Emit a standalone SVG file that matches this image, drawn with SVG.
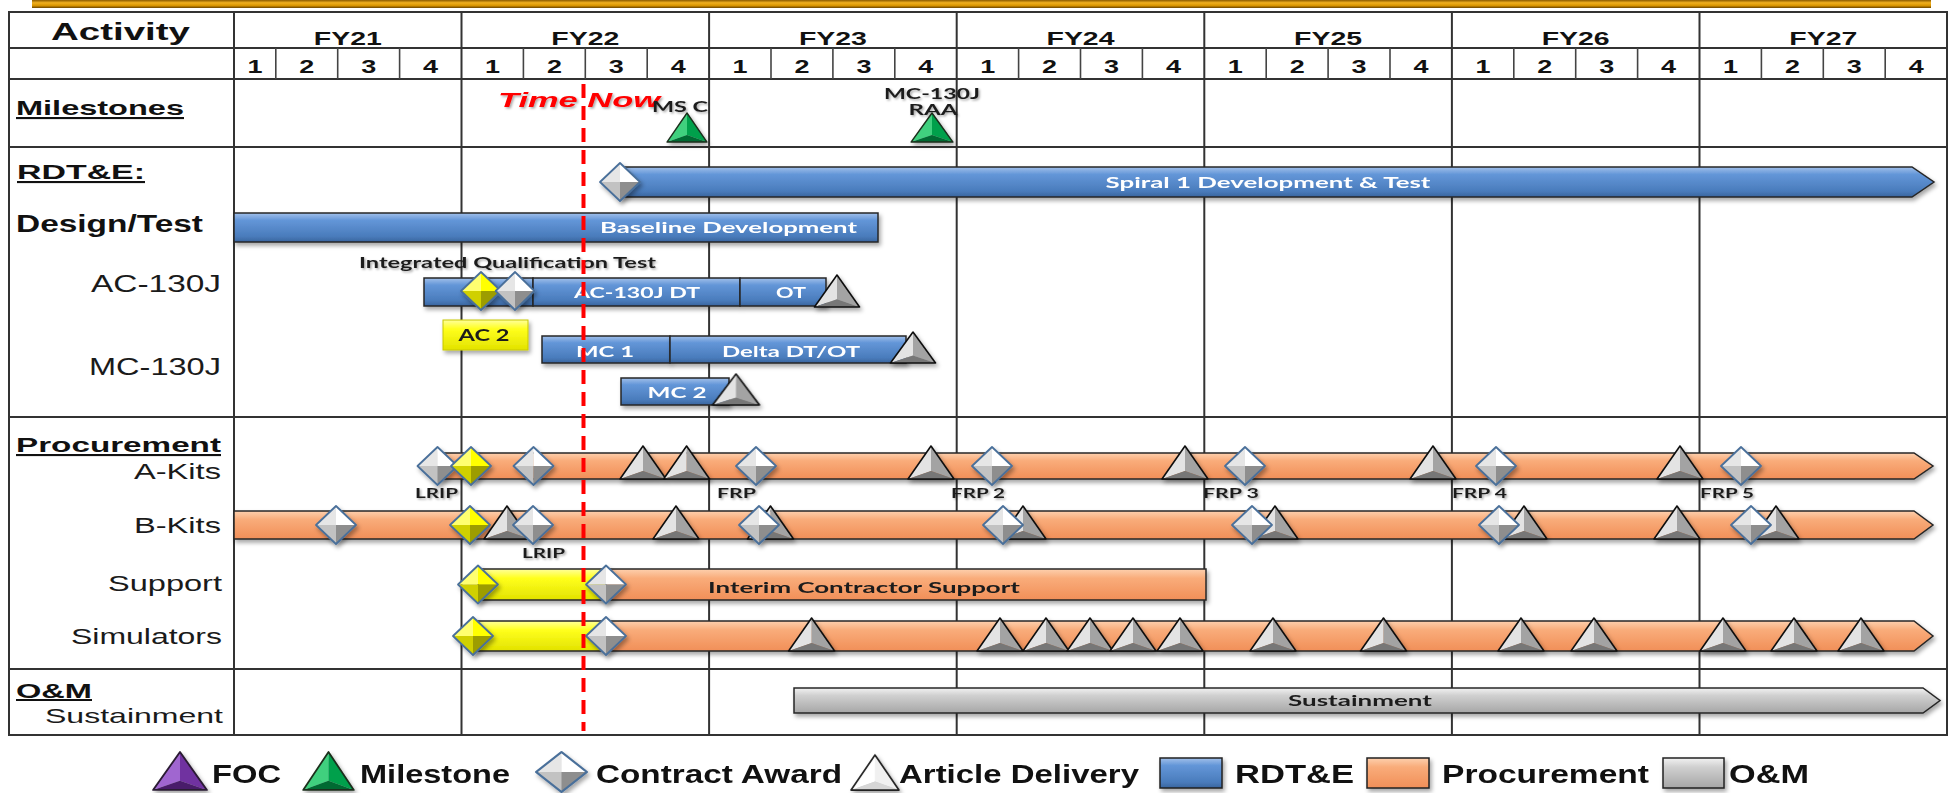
<svg xmlns="http://www.w3.org/2000/svg" xmlns:xlink="http://www.w3.org/1999/xlink" width="1955" height="793" viewBox="0 0 1955 793">
<defs>
<style>
.grid{stroke:#333;stroke-width:2;fill:none}
.qgrid{stroke:#444;stroke-width:1.6}
.hdr{font-family:"Liberation Sans",Arial,sans-serif;font-weight:bold;fill:#111}
.lbl{font-family:"Liberation Sans",Arial,sans-serif;fill:#1a1a1a}
.bt{font-family:Lato,"Open Sans",sans-serif;font-weight:bold;font-size:16px;fill:#fff}
.dt{font-family:Lato,"Open Sans",sans-serif;font-weight:bold;fill:#1e1e1e}
.bar{stroke:#262626;stroke-width:1.5}
.blue{fill:url(#gBlue)}
.orange{fill:url(#gOrange)}
.gray{fill:url(#gGray)}
.yellow{fill:url(#gYellow)}
.sh{filter:url(#shadow)}
.tsh{filter:url(#tshadow)}
</style>
<filter id="shadow" x="-20%" y="-40%" width="140%" height="190%">
<feDropShadow dx="2" dy="3" stdDeviation="2" flood-color="#000" flood-opacity="0.35"/>
</filter>
<filter id="tshadow" x="-10%" y="-50%" width="120%" height="200%">
<feDropShadow dx="1.5" dy="1.5" stdDeviation="1.2" flood-color="#000" flood-opacity="0.35"/>
</filter>
<linearGradient id="gBlue" x1="0" y1="0" x2="0" y2="1">
<stop offset="0" stop-color="#a2c0ea"/><stop offset="0.25" stop-color="#6396d8"/><stop offset="0.8" stop-color="#4a7cbc"/><stop offset="1" stop-color="#3a659e"/>
</linearGradient>
<linearGradient id="gOrange" x1="0" y1="0" x2="0" y2="1">
<stop offset="0" stop-color="#fdd0ae"/><stop offset="0.3" stop-color="#f9ac7a"/><stop offset="1" stop-color="#f18f58"/>
</linearGradient>
<linearGradient id="gGray" x1="0" y1="0" x2="0" y2="1">
<stop offset="0" stop-color="#f2f2f2"/><stop offset="0.3" stop-color="#d0d0d0"/><stop offset="1" stop-color="#a6a6a6"/>
</linearGradient>
<linearGradient id="gYellow" x1="0" y1="0" x2="0" y2="1">
<stop offset="0" stop-color="#ffff9c"/><stop offset="0.3" stop-color="#ffff1c"/><stop offset="1" stop-color="#e2e200"/>
</linearGradient>
<linearGradient id="gTop" x1="0" y1="0" x2="0" y2="1">
<stop offset="0" stop-color="#8a5a00"/><stop offset="0.35" stop-color="#f0b020"/><stop offset="0.7" stop-color="#d89400"/><stop offset="1" stop-color="#6b4500"/>
</linearGradient>
<!-- gray article delivery triangle, apex at 0,0 -->
<g id="tri">
<polygon points="0,0 -23,33 0,25" fill="#e3e3e3"/>
<polygon points="0,0 23,33 0,25" fill="#a3a3a3"/>
<polygon points="-23,33 0,25 23,33" fill="#777"/>
<polygon points="0,0 -23,33 23,33" fill="none" stroke="#111" stroke-width="1.6" stroke-linejoin="round"/>
</g>
<g id="triG">
<polygon points="0,0 -23,33 0,25" fill="#3fd07e"/>
<polygon points="0,0 23,33 0,25" fill="#00a04c"/>
<polygon points="-23,33 0,25 23,33" fill="#006a32"/>
<polygon points="0,0 -23,33 23,33" fill="none" stroke="#1b2e1b" stroke-width="1.6" stroke-linejoin="round"/>
</g>
<g id="triP">
<polygon points="0,0 -23,33 0,25" fill="#a066d0"/>
<polygon points="0,0 23,33 0,25" fill="#7030a0"/>
<polygon points="-23,33 0,25 23,33" fill="#4a1f6b"/>
<polygon points="0,0 -23,33 23,33" fill="none" stroke="#2a1a33" stroke-width="1.6" stroke-linejoin="round"/>
</g>
<g id="triW">
<polygon points="0,0 -23,33 0,25" fill="#ffffff"/>
<polygon points="0,0 23,33 0,25" fill="#f0f0f0"/>
<polygon points="-23,33 0,25 23,33" fill="#d6d6d6"/>
<polygon points="0,0 -23,33 23,33" fill="none" stroke="#222" stroke-width="1.6" stroke-linejoin="round"/>
</g>
<!-- contract award diamond, center 0,0 -->
<g id="dia">
<polygon points="0,-19 -20,0 0,0" fill="#e6e6e6"/>
<polygon points="0,-19 20,0 0,0" fill="#ffffff"/>
<polygon points="-20,0 0,19 0,0" fill="#c2c2c2"/>
<polygon points="20,0 0,19 0,0" fill="#8e8e8e"/>
<polygon points="0,-19 20,0 0,19 -20,0" fill="none" stroke="#4a6f9a" stroke-width="1.8" stroke-linejoin="round"/>
</g>
<g id="diaY">
<polygon points="0,-19 -20,0 0,0" fill="#ffff70"/>
<polygon points="0,-19 20,0 0,0" fill="#ffff00"/>
<polygon points="-20,0 0,19 0,0" fill="#d0d000"/>
<polygon points="20,0 0,19 0,0" fill="#9d9d00"/>
<polygon points="0,-19 20,0 0,19 -20,0" fill="none" stroke="#4a6f9a" stroke-width="1.8" stroke-linejoin="round"/>
</g>
</defs>

<rect width="1955" height="793" fill="#ffffff"/>

<!-- top banner -->
<rect x="32" y="0" width="1899" height="8" fill="url(#gTop)"/>

<!-- table grid -->
<g id="grid">
<rect class="grid" x="9" y="12" width="1938" height="723"/>
<line class="grid" x1="9" y1="48" x2="1947" y2="48"/>
<line class="grid" x1="9" y1="79" x2="1947" y2="79"/>
<line class="grid" x1="9" y1="147" x2="1947" y2="147"/>
<line class="grid" x1="9" y1="417" x2="1947" y2="417"/>
<line class="grid" x1="9" y1="669" x2="1947" y2="669"/>
<line class="grid" x1="234" y1="12" x2="234" y2="735"/>
<line class="grid" x1="461.5" y1="12" x2="461.5" y2="735"/>
<line class="grid" x1="709.1" y1="12" x2="709.1" y2="735"/>
<line class="grid" x1="956.7" y1="12" x2="956.7" y2="735"/>
<line class="grid" x1="1204.3" y1="12" x2="1204.3" y2="735"/>
<line class="grid" x1="1451.9" y1="12" x2="1451.9" y2="735"/>
<line class="grid" x1="1699.5" y1="12" x2="1699.5" y2="735"/>
<g class="qgrid">
<line x1="275.8" y1="48" x2="275.8" y2="79"/><line x1="337.7" y1="48" x2="337.7" y2="79"/><line x1="399.6" y1="48" x2="399.6" y2="79"/>
<line x1="523.4" y1="48" x2="523.4" y2="79"/><line x1="585.3" y1="48" x2="585.3" y2="79"/><line x1="647.2" y1="48" x2="647.2" y2="79"/>
<line x1="771" y1="48" x2="771" y2="79"/><line x1="832.9" y1="48" x2="832.9" y2="79"/><line x1="894.8" y1="48" x2="894.8" y2="79"/>
<line x1="1018.6" y1="48" x2="1018.6" y2="79"/><line x1="1080.5" y1="48" x2="1080.5" y2="79"/><line x1="1142.4" y1="48" x2="1142.4" y2="79"/>
<line x1="1266.2" y1="48" x2="1266.2" y2="79"/><line x1="1328.1" y1="48" x2="1328.1" y2="79"/><line x1="1390" y1="48" x2="1390" y2="79"/>
<line x1="1513.8" y1="48" x2="1513.8" y2="79"/><line x1="1575.7" y1="48" x2="1575.7" y2="79"/><line x1="1637.6" y1="48" x2="1637.6" y2="79"/>
<line x1="1761.4" y1="48" x2="1761.4" y2="79"/><line x1="1823.3" y1="48" x2="1823.3" y2="79"/><line x1="1885.2" y1="48" x2="1885.2" y2="79"/>
</g>
</g>

<!-- header texts -->
<g id="header" class="hdr" text-anchor="middle">
<text x="120.5" y="40" font-size="24" textLength="139" lengthAdjust="spacingAndGlyphs">Activity</text>
<g font-size="18">
<text x="347.8" y="45" textLength="68" lengthAdjust="spacingAndGlyphs">FY21</text>
<text x="585.3" y="45" textLength="68" lengthAdjust="spacingAndGlyphs">FY22</text>
<text x="832.9" y="45" textLength="68" lengthAdjust="spacingAndGlyphs">FY23</text>
<text x="1080.5" y="45" textLength="68" lengthAdjust="spacingAndGlyphs">FY24</text>
<text x="1328.1" y="45" textLength="68" lengthAdjust="spacingAndGlyphs">FY25</text>
<text x="1575.7" y="45" textLength="68" lengthAdjust="spacingAndGlyphs">FY26</text>
<text x="1823.3" y="45" textLength="68" lengthAdjust="spacingAndGlyphs">FY27</text>
</g>
<g font-size="18">
<text x="254.9" y="73" textLength="15" lengthAdjust="spacingAndGlyphs">1</text><text x="306.8" y="73" textLength="15" lengthAdjust="spacingAndGlyphs">2</text><text x="368.7" y="73" textLength="15" lengthAdjust="spacingAndGlyphs">3</text><text x="430.6" y="73" textLength="15" lengthAdjust="spacingAndGlyphs">4</text>
<text x="492.5" y="73" textLength="15" lengthAdjust="spacingAndGlyphs">1</text><text x="554.4" y="73" textLength="15" lengthAdjust="spacingAndGlyphs">2</text><text x="616.3" y="73" textLength="15" lengthAdjust="spacingAndGlyphs">3</text><text x="678.2" y="73" textLength="15" lengthAdjust="spacingAndGlyphs">4</text>
<text x="740.1" y="73" textLength="15" lengthAdjust="spacingAndGlyphs">1</text><text x="802" y="73" textLength="15" lengthAdjust="spacingAndGlyphs">2</text><text x="863.9" y="73" textLength="15" lengthAdjust="spacingAndGlyphs">3</text><text x="925.8" y="73" textLength="15" lengthAdjust="spacingAndGlyphs">4</text>
<text x="987.7" y="73" textLength="15" lengthAdjust="spacingAndGlyphs">1</text><text x="1049.6" y="73" textLength="15" lengthAdjust="spacingAndGlyphs">2</text><text x="1111.5" y="73" textLength="15" lengthAdjust="spacingAndGlyphs">3</text><text x="1173.4" y="73" textLength="15" lengthAdjust="spacingAndGlyphs">4</text>
<text x="1235.3" y="73" textLength="15" lengthAdjust="spacingAndGlyphs">1</text><text x="1297.2" y="73" textLength="15" lengthAdjust="spacingAndGlyphs">2</text><text x="1359.1" y="73" textLength="15" lengthAdjust="spacingAndGlyphs">3</text><text x="1421" y="73" textLength="15" lengthAdjust="spacingAndGlyphs">4</text>
<text x="1482.9" y="73" textLength="15" lengthAdjust="spacingAndGlyphs">1</text><text x="1544.8" y="73" textLength="15" lengthAdjust="spacingAndGlyphs">2</text><text x="1606.7" y="73" textLength="15" lengthAdjust="spacingAndGlyphs">3</text><text x="1668.6" y="73" textLength="15" lengthAdjust="spacingAndGlyphs">4</text>
<text x="1730.5" y="73" textLength="15" lengthAdjust="spacingAndGlyphs">1</text><text x="1792.4" y="73" textLength="15" lengthAdjust="spacingAndGlyphs">2</text><text x="1854.3" y="73" textLength="15" lengthAdjust="spacingAndGlyphs">3</text><text x="1916.2" y="73" textLength="15" lengthAdjust="spacingAndGlyphs">4</text>
</g>
</g>

<!-- row labels -->
<g id="row-labels">
<g class="hdr" font-size="21" text-decoration="underline">
<text x="16" y="115" textLength="168" lengthAdjust="spacingAndGlyphs">Milestones</text>
<text x="17" y="179" textLength="128" lengthAdjust="spacingAndGlyphs">RDT&amp;E:</text>
<text x="16" y="452" textLength="205" lengthAdjust="spacingAndGlyphs">Procurement</text>
<text x="16" y="698" font-size="20" textLength="76" lengthAdjust="spacingAndGlyphs">O&amp;M</text>
</g>
<text class="hdr" x="16" y="232" font-size="23" textLength="187" lengthAdjust="spacingAndGlyphs">Design/Test</text>
<g class="lbl" font-size="23" text-anchor="end">
<text x="221" y="292" textLength="130" lengthAdjust="spacingAndGlyphs">AC-130J</text>
<text x="221" y="375" textLength="132" lengthAdjust="spacingAndGlyphs">MC-130J</text>
<text x="221" y="479" font-size="22" textLength="87" lengthAdjust="spacingAndGlyphs">A-Kits</text>
<text x="221" y="533" font-size="22" textLength="87" lengthAdjust="spacingAndGlyphs">B-Kits</text>
<text x="222" y="591" font-size="22" textLength="114" lengthAdjust="spacingAndGlyphs">Support</text>
<text x="222" y="644" font-size="22" textLength="151" lengthAdjust="spacingAndGlyphs">Simulators</text>
<text x="223" y="723" font-size="21" textLength="178" lengthAdjust="spacingAndGlyphs">Sustainment</text>
</g>
</g>

<!-- RDT&E bars -->
<g id="bar-spiral" class="sh">
<path class="bar blue" d="M620,167 H1912 L1934,182 L1912,197 H620 Z"/>
<text class="bt" x="1268" y="188" text-anchor="middle" textLength="325" lengthAdjust="spacingAndGlyphs">Spiral 1 Development &amp; Test</text>
</g>
<g id="bar-baseline" class="sh">
<rect class="bar blue" x="234" y="213" width="644" height="29"/>
<text class="bt" x="728.5" y="233" text-anchor="middle" textLength="257" lengthAdjust="spacingAndGlyphs">Baseline Development</text>
</g>
<g id="bar-ac130j" class="sh">
<rect class="bar blue" x="424" y="278" width="109" height="28"/>
<rect class="bar blue" x="533" y="278" width="207" height="28"/>
<rect class="bar blue" x="740" y="278" width="86" height="28"/>
<text class="bt" x="637" y="298" text-anchor="middle" textLength="126" lengthAdjust="spacingAndGlyphs">AC-130J DT</text>
<text class="bt" x="791" y="298" text-anchor="middle" textLength="30" lengthAdjust="spacingAndGlyphs">OT</text>
</g>
<g id="bar-mc1" class="sh">
<rect class="bar blue" x="542" y="336" width="128" height="27"/>
<text class="bt" x="605" y="357" text-anchor="middle" textLength="58" lengthAdjust="spacingAndGlyphs">MC 1</text>
</g>
<g id="bar-delta" class="sh">
<rect class="bar blue" x="670" y="336" width="236" height="27"/>
<text class="bt" x="791" y="357" text-anchor="middle" textLength="138" lengthAdjust="spacingAndGlyphs">Delta DT/OT</text>
</g>
<g id="bar-mc2" class="sh">
<rect class="bar blue" x="621" y="378" width="108" height="27"/>
<text class="bt" x="677" y="398" text-anchor="middle" textLength="59" lengthAdjust="spacingAndGlyphs">MC 2</text>
</g>
<g id="box-ac2" class="sh">
<rect x="443" y="320" width="85" height="30" fill="url(#gYellow)" stroke="#c8c800" stroke-width="1"/>
<text class="dt" x="484" y="341" font-size="17" text-anchor="middle" fill="#111" textLength="51" lengthAdjust="spacingAndGlyphs">AC 2</text>
</g>
<text id="lbl-iqt" class="dt tsh" x="359" y="268" font-size="16" textLength="297" lengthAdjust="spacingAndGlyphs">Integrated Qualification Test</text>

<!-- RDT&E markers -->
<g id="rdte-markers" class="sh">
<use xlink:href="#dia" transform="translate(620,182)"/>
<use xlink:href="#diaY" transform="translate(481,291)"/>
<use xlink:href="#dia" transform="translate(515,291) scale(0.97,1)"/>
<use xlink:href="#tri" transform="translate(837,275) scale(0.98,0.97)"/>
<use xlink:href="#tri" transform="translate(913,332) scale(0.98,0.94)"/>
<use xlink:href="#tri" transform="translate(736,374) scale(1.02,0.94)"/>
</g>

<!-- milestones -->
<g id="milestones">
<text class="tsh" x="498" y="107" font-family="Liberation Sans,Arial,sans-serif" font-weight="bold" font-style="italic" font-size="21" fill="#ff0000" textLength="162" lengthAdjust="spacingAndGlyphs">Time Now</text>
<g class="dt tsh" font-size="15" fill="#333">
<text x="652" y="112" textLength="56" lengthAdjust="spacingAndGlyphs">MS C</text>
<text x="932" y="99" text-anchor="middle" textLength="96" lengthAdjust="spacingAndGlyphs">MC-130J</text>
<text x="933" y="115" text-anchor="middle" textLength="49" lengthAdjust="spacingAndGlyphs">RAA</text>
</g>
<g class="sh">
<use xlink:href="#triG" transform="translate(687,113) scale(0.87,0.88)"/>
<use xlink:href="#triG" transform="translate(932,113) scale(0.91,0.88)"/>
</g>
</g>

<!-- procurement bars -->
<g id="bar-akits" class="sh">
<path class="bar orange" d="M440,453 H1914 L1933,466 L1914,479 H440 Z"/>
</g>
<g id="bar-bkits" class="sh">
<path class="bar orange" d="M234,511 H1914 L1933,525 L1914,539 H234 Z"/>
</g>
<g id="bar-support" class="sh">
<rect class="bar yellow" x="478" y="569" width="128" height="31"/>
<rect class="bar orange" x="606" y="569" width="600" height="31"/>
<text class="dt" x="864" y="593" font-size="16" text-anchor="middle" textLength="312" lengthAdjust="spacingAndGlyphs">Interim Contractor Support</text>
</g>
<g id="bar-simulators" class="sh">
<rect class="bar yellow" x="473" y="621" width="133" height="30"/>
<path class="bar orange" d="M606,621 H1914 L1933,636 L1914,651 H606 Z"/>
</g>

<!-- A-Kits markers -->
<g id="akits-markers" class="sh">
<use xlink:href="#tri" transform="translate(643,446)"/>
<use xlink:href="#tri" transform="translate(686.6,446)"/>
<use xlink:href="#tri" transform="translate(931,446)"/>
<use xlink:href="#tri" transform="translate(1185,446)"/>
<use xlink:href="#tri" transform="translate(1433,446)"/>
<use xlink:href="#tri" transform="translate(1680,446)"/>
<use xlink:href="#dia" transform="translate(437.5,466)"/>
<use xlink:href="#diaY" transform="translate(471,466)"/>
<use xlink:href="#dia" transform="translate(533.5,466)"/>
<use xlink:href="#dia" transform="translate(756,466)"/>
<use xlink:href="#dia" transform="translate(992,466)"/>
<use xlink:href="#dia" transform="translate(1245,466)"/>
<use xlink:href="#dia" transform="translate(1496,466)"/>
<use xlink:href="#dia" transform="translate(1741,466)"/>
</g>
<g id="akits-labels" class="dt tsh" font-size="14" fill="#222">
<text x="415" y="498" textLength="43" lengthAdjust="spacingAndGlyphs">LRIP</text>
<text x="717" y="498" textLength="39" lengthAdjust="spacingAndGlyphs">FRP</text>
<text x="951" y="498" textLength="54" lengthAdjust="spacingAndGlyphs">FRP 2</text>
<text x="1203" y="498" textLength="56" lengthAdjust="spacingAndGlyphs">FRP 3</text>
<text x="1452" y="498" textLength="55" lengthAdjust="spacingAndGlyphs">FRP 4</text>
<text x="1700" y="498" textLength="54" lengthAdjust="spacingAndGlyphs">FRP 5</text>
</g>

<!-- B-Kits markers -->
<g id="bkits-markers" class="sh">
<use xlink:href="#tri" transform="translate(507,506)"/>
<use xlink:href="#tri" transform="translate(676,506)"/>
<use xlink:href="#tri" transform="translate(770.5,506)"/>
<use xlink:href="#tri" transform="translate(1023,506)"/>
<use xlink:href="#tri" transform="translate(1275,506)"/>
<use xlink:href="#tri" transform="translate(1524,506)"/>
<use xlink:href="#tri" transform="translate(1677,506)"/>
<use xlink:href="#tri" transform="translate(1776,506)"/>
<use xlink:href="#dia" transform="translate(336,525)"/>
<use xlink:href="#diaY" transform="translate(470,525)"/>
<use xlink:href="#dia" transform="translate(533,525)"/>
<use xlink:href="#dia" transform="translate(759,525)"/>
<use xlink:href="#dia" transform="translate(1003,525)"/>
<use xlink:href="#dia" transform="translate(1252,525)"/>
<use xlink:href="#dia" transform="translate(1499,525)"/>
<use xlink:href="#dia" transform="translate(1751,525)"/>
</g>
<text id="bkits-lrip" class="dt tsh" x="522" y="558" font-size="14" fill="#222" textLength="43" lengthAdjust="spacingAndGlyphs">LRIP</text>

<!-- Support / Simulators markers -->
<g id="support-markers" class="sh">
<use xlink:href="#diaY" transform="translate(478,584.5)"/>
<use xlink:href="#dia" transform="translate(606,584.5)"/>
</g>
<g id="simulator-markers" class="sh">
<use xlink:href="#tri" transform="translate(811.6,618)"/>
<use xlink:href="#tri" transform="translate(1000,618)"/>
<use xlink:href="#tri" transform="translate(1046,618)"/>
<use xlink:href="#tri" transform="translate(1090,618)"/>
<use xlink:href="#tri" transform="translate(1133,618)"/>
<use xlink:href="#tri" transform="translate(1180,618)"/>
<use xlink:href="#tri" transform="translate(1273,618)"/>
<use xlink:href="#tri" transform="translate(1383.5,618)"/>
<use xlink:href="#tri" transform="translate(1521,618)"/>
<use xlink:href="#tri" transform="translate(1594,618)"/>
<use xlink:href="#tri" transform="translate(1723,618)"/>
<use xlink:href="#tri" transform="translate(1794,618)"/>
<use xlink:href="#tri" transform="translate(1861,618)"/>
<use xlink:href="#diaY" transform="translate(473,636)"/>
<use xlink:href="#dia" transform="translate(606,636)"/>
</g>

<!-- O&M -->
<g id="bar-sustainment" class="sh">
<path class="bar gray" d="M794,688 H1923 L1940,700.5 L1923,713 H794 Z"/>
<text class="dt" x="1360" y="706" font-size="16" text-anchor="middle" textLength="144" lengthAdjust="spacingAndGlyphs">Sustainment</text>
</g>

<!-- time now line -->
<line id="time-now" x1="583.5" y1="84" x2="583.5" y2="731" stroke="#ff0000" stroke-width="4" stroke-dasharray="14,8"/>

<!-- legend -->
<g id="legend">
<g class="sh">
<use xlink:href="#triP" transform="translate(180,752) scale(1.17,1.15)"/>
<use xlink:href="#triG" transform="translate(328.5,752) scale(1.1,1.15)"/>
<use xlink:href="#dia" transform="translate(561.5,772) scale(1.27,1.05)"/>
<use xlink:href="#triW" transform="translate(875,755) scale(1.04,1.06)"/>
<rect x="1160" y="758" width="62" height="30" fill="url(#gBlue)" stroke="#222" stroke-width="1.5"/>
<rect x="1367" y="758" width="62" height="30" fill="url(#gOrange)" stroke="#222" stroke-width="1.5"/>
<rect x="1663" y="758" width="61" height="30" fill="url(#gGray)" stroke="#222" stroke-width="1.5"/>
</g>
<g class="hdr" font-size="26">
<text x="212" y="783" textLength="69" lengthAdjust="spacingAndGlyphs">FOC</text>
<text x="360" y="783" textLength="150" lengthAdjust="spacingAndGlyphs">Milestone</text>
<text x="596" y="783" textLength="246" lengthAdjust="spacingAndGlyphs">Contract Award</text>
<text x="899" y="783" textLength="240" lengthAdjust="spacingAndGlyphs">Article Delivery</text>
<text x="1235" y="783" textLength="119" lengthAdjust="spacingAndGlyphs">RDT&amp;E</text>
<text x="1442" y="783" textLength="207" lengthAdjust="spacingAndGlyphs">Procurement</text>
<text x="1729" y="783" textLength="80" lengthAdjust="spacingAndGlyphs">O&amp;M</text>
</g>
</g>
</svg>
